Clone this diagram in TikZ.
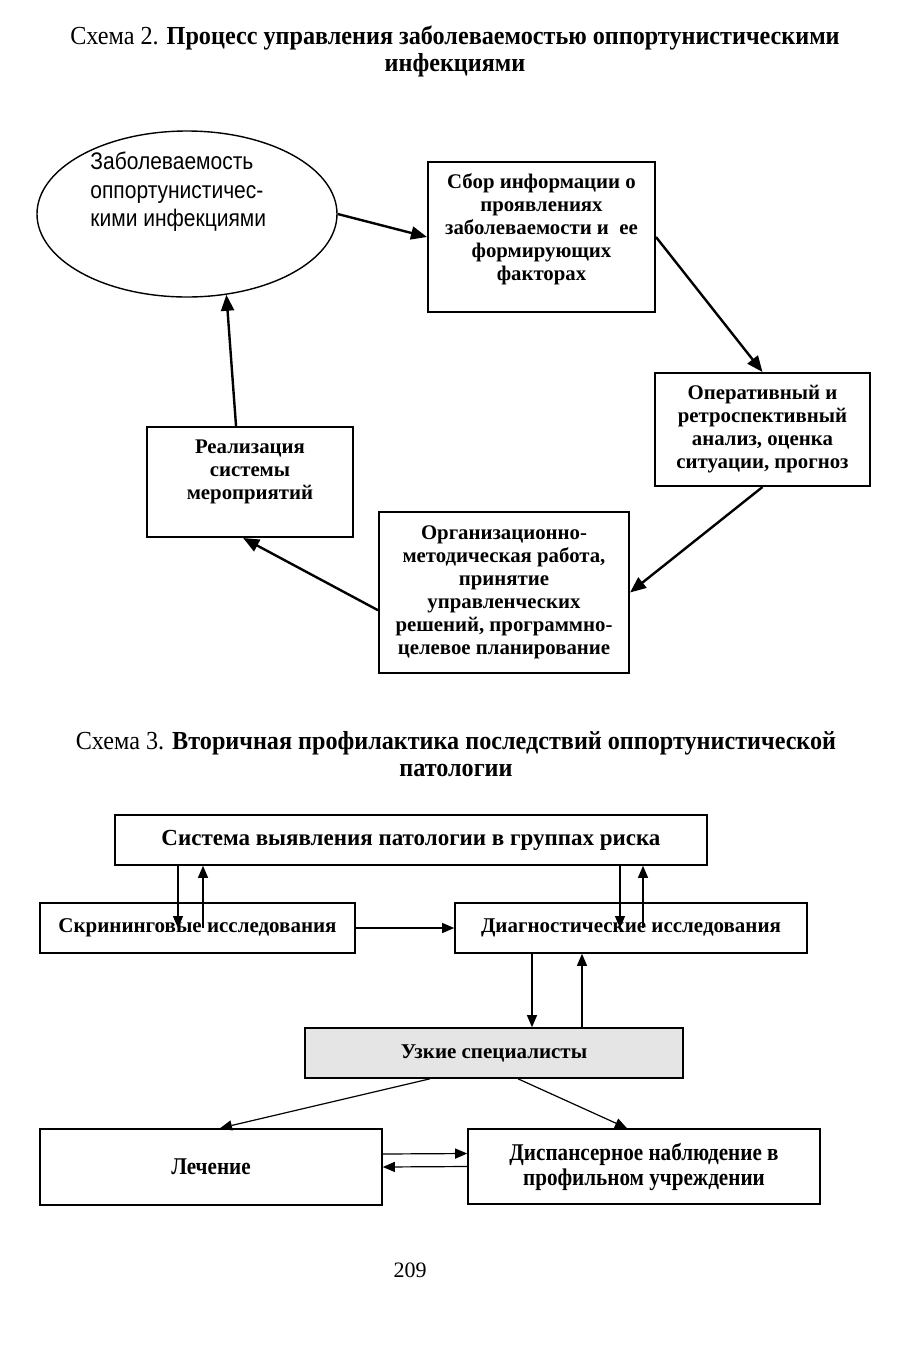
\documentclass[tikz,border=0pt]{standalone}
\usepackage{fontspec}
\setmainfont{Liberation Serif}
\newfontfamily\titleFont[FakeStretch=0.93]{Liberation Serif}
\newfontfamily\narrowFont[FakeStretch=0.88]{Liberation Serif}
\newfontfamily\ovalFont[FakeStretch=0.875]{Liberation Sans}
\usetikzlibrary{arrows.meta}
\usetikzlibrary{shapes.geometric}
\tikzstyle{page} = [x = .5pt, y = -.5pt]
\tikzstyle{titleText} = [align=center, inner sep=0pt, font=\titleFont\fontsize{13}{13.5}\selectfont]
\tikzstyle{ovalStyle} = [draw, ellipse, line width=.7pt, inner sep=0pt]
\tikzstyle{ovalText} = [align=left, inner sep=0pt, font=\ovalFont\fontsize{12}{14.2}\selectfont]
\tikzstyle{cycleBox} = [draw, line width=1pt, align=center, inner sep=0pt, font=\bfseries\fontsize{10.4}{11.5}\selectfont]
\tikzstyle{cycleArrow} = [line width=1.2pt, -{Triangle[length=8pt, width=6.5pt]}]
\tikzstyle{stageBox} = [draw, line width=.8pt, align=center, inner sep=0pt, minimum height=25pt, font=\bfseries\fontsize{10.5}{13}\selectfont]
\tikzstyle{narrowText} = [font=\narrowFont\bfseries\fontsize{12}{12.5}\selectfont]
\tikzstyle{stageArrow} = [line width=.6pt, -{Triangle[length=6pt, width=5pt]}]
\begin{document}
\begin{tikzpicture}[page]
  \useasboundingbox (0,0) rectangle (910,1350);

  % scheme 2
  \node [titleText] (titleTwo) at (455,51) {Схема 2. \textbf{Процесс управления заболеваемостью оппортунистическими}\\\textbf{инфекциями}};

  \node [ovalStyle, minimum width=150pt, minimum height=83pt] (morbidity) at (187,214) {};
  \node [ovalText, anchor=west] (morbidityText) at (90,192) {Заболеваемость\\оппортунистичес-\\кими инфекциями};
  \node [cycleBox, minimum width=113.5pt, minimum height=75pt, text depth=10pt] (collect) at (541.5,237) {Сбор информации о\\проявлениях\\заболеваемости и~~ее\\формирующих\\факторах};
  \node [cycleBox, minimum width=107.5pt, minimum height=56.5pt] (analysis) at (762.5,429.5) {Оперативный и\\ретроспективный\\анализ, оценка\\ситуации, прогноз};
  \node [cycleBox, minimum width=125pt, minimum height=80.5pt] (organize) at (504,592.5) {Организационно-\\методическая работа,\\принятие\\управленческих\\решений, программно-\\целевое планирование};
  \node [cycleBox, minimum width=103pt, minimum height=55pt, text depth=12pt] (implement) at (250,482) {Реализация\\системы\\мероприятий};

  \draw [cycleArrow] (morbidity.east) -- (collect.west);
  \draw [cycleArrow] (collect.east) -- (analysis.north);
  \draw [cycleArrow] (analysis.south) -- (organize.east);
  \draw [cycleArrow] (organize.188) -- (implement.263);
  \draw [cycleArrow] (implement.104) -- (morbidity.296);

  % scheme 3
  \node [titleText] (titleThree) at (456,754) {Схема 3. \textbf{Вторичная профилактика последствий оппортунистической}\\\textbf{патологии}};

  \node [stageBox, minimum width=296pt, font=\bfseries\fontsize{11.5}{13}\selectfont] (detect) at (411,840) {Система выявления патологии в группах риска};
  \node [stageBox, minimum width=157.5pt] (screen) at (197.5,928) {Скрининговые исследования};
  \node [stageBox, minimum width=176pt] (diagnose) at (631,928) {Диагностические исследования};
  \node [stageBox, minimum width=189pt, fill=black!10] (experts) at (494,1053) {Узкие специалисты};
  \node [stageBox, narrowText, minimum width=171pt, minimum height=38pt] (treat) at (211,1167) {Лечение};
  \node [stageBox, narrowText, minimum width=176pt, minimum height=37.5pt] (dispensary) at (644,1166.5) {Диспансерное наблюдение в\\профильном учреждении};

  \draw [stageArrow] ([xshift=-116.5pt]detect.south) -- ([xshift=-9.75pt]screen.center);
  \draw [stageArrow] ([xshift=2.75pt]screen.center) -- ([xshift=-104pt]detect.south);
  \draw [stageArrow] ([xshift=104.5pt]detect.south) -- ([xshift=-5.5pt]diagnose.center);
  \draw [stageArrow] ([xshift=6pt]diagnose.center) -- ([xshift=116pt]detect.south);
  \draw [stageArrow] (screen.east) -- (diagnose.west);
  \draw [stageArrow] ([xshift=-49.5pt]diagnose.south) -- ([xshift=19pt]experts.north);
  \draw [stageArrow] ([xshift=44pt]experts.north) -- ([xshift=-24.5pt]diagnose.south);
  \draw [stageArrow] ([xshift=-32pt]experts.south) -- ([xshift=4.5pt]treat.north);
  \draw [stageArrow] ([xshift=12pt]experts.south) -- ([xshift=-8.5pt]dispensary.north);
  \draw [stageArrow] ([yshift=6.5pt]treat.east) -- ([yshift=6.5pt]dispensary.west);
  \draw [stageArrow] (dispensary.west) -- (treat.east);

  \node [font=\fontsize{11}{13}\selectfont] (pageNumber) at (410,1270) {209};
\end{tikzpicture}
\end{document}
